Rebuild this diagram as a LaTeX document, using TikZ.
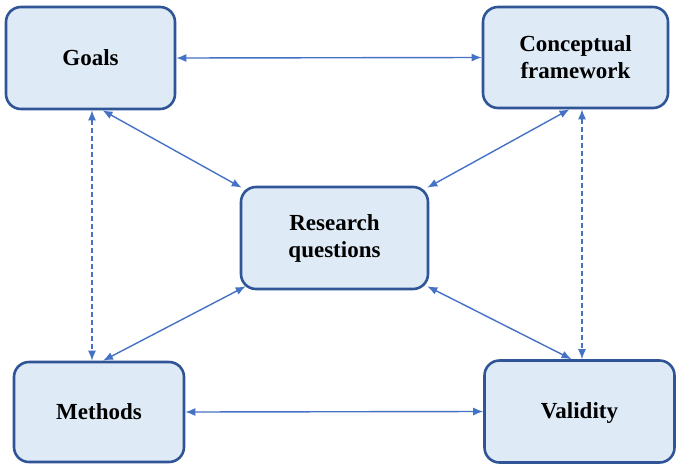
\documentclass[tikz,border=0pt]{standalone}
\usepackage{fontspec}
\setmainfont{Liberation Serif}
\usepackage{xcolor}
\usepackage{tikz}
\usetikzlibrary{arrows.meta}
\definecolor{boxfill}{HTML}{DEEAF6}
\definecolor{boxline}{HTML}{2F5597}
\definecolor{linkcol}{HTML}{4472C4}
\pgfkeys{tikz/mybox/.style={draw=boxline,fill=boxfill,line width=2.6pt,rounded corners=15pt,align=center,font=\fontsize{23}{27}\selectfont\bfseries,inner sep=0pt}}
\pgfkeys{tikz/mylink/.style={draw=linkcol,line width=1.4pt,{Latex[length=10pt,width=8pt]}-{Latex[length=10pt,width=8pt]}}}
\pgfkeys{tikz/mydashlink/.style={mylink,dash pattern=on 5pt off 3pt}}
\begin{document}
\begin{tikzpicture}[x=1pt,y=-1pt]
    \useasboundingbox (0,0) rectangle (677,464);
    \node[mybox,minimum width=169pt,minimum height=102pt] (goals) at (90.5,58) {Goals};
    \node[mybox,minimum width=185pt,minimum height=101pt] (concept) at (575.5,57.5) {Conceptual\\framework};
    \node[mybox,minimum width=187pt,minimum height=102pt] (research) at (334.5,238) {Research\\questions};
    \node[mybox,minimum width=170pt,minimum height=100pt] (methods) at (99,412) {Methods};
    \node[mybox,minimum width=190pt,minimum height=102pt] (validity) at (579.5,411.5) {};
    \node[font=\fontsize{23}{27}\selectfont\bfseries] (validitytext) at (579.5,413) {Validity};
    % horizontal links
    \draw[mylink] (goals.east) -- (concept.west);
    \draw[mylink] (methods.east) -- (validity.west);
    % dashed vertical links
    \draw[mydashlink] ([xshift=1.5pt]goals.south) -- ([xshift=1.5pt]goals.south |- methods.north);
    \draw[mydashlink] ([xshift=6.5pt]concept.south) -- ([xshift=6.5pt]concept.south |- validity.north);
    % links to the research questions
    \draw[mylink] ([xshift=12pt]goals.south) -- ([shift={(2pt,-2pt)}]research.north west);
    \draw[mylink] ([xshift=-6pt]concept.south) -- ([shift={(-2pt,-2pt)}]research.north east);
    \draw[mylink] ([xshift=4pt]methods.north) -- ([shift={(6pt,4pt)}]research.south west);
    \draw[mylink] ([xshift=-8pt]validity.north) -- ([shift={(-2pt,4pt)}]research.south east);
\end{tikzpicture}
\end{document}
